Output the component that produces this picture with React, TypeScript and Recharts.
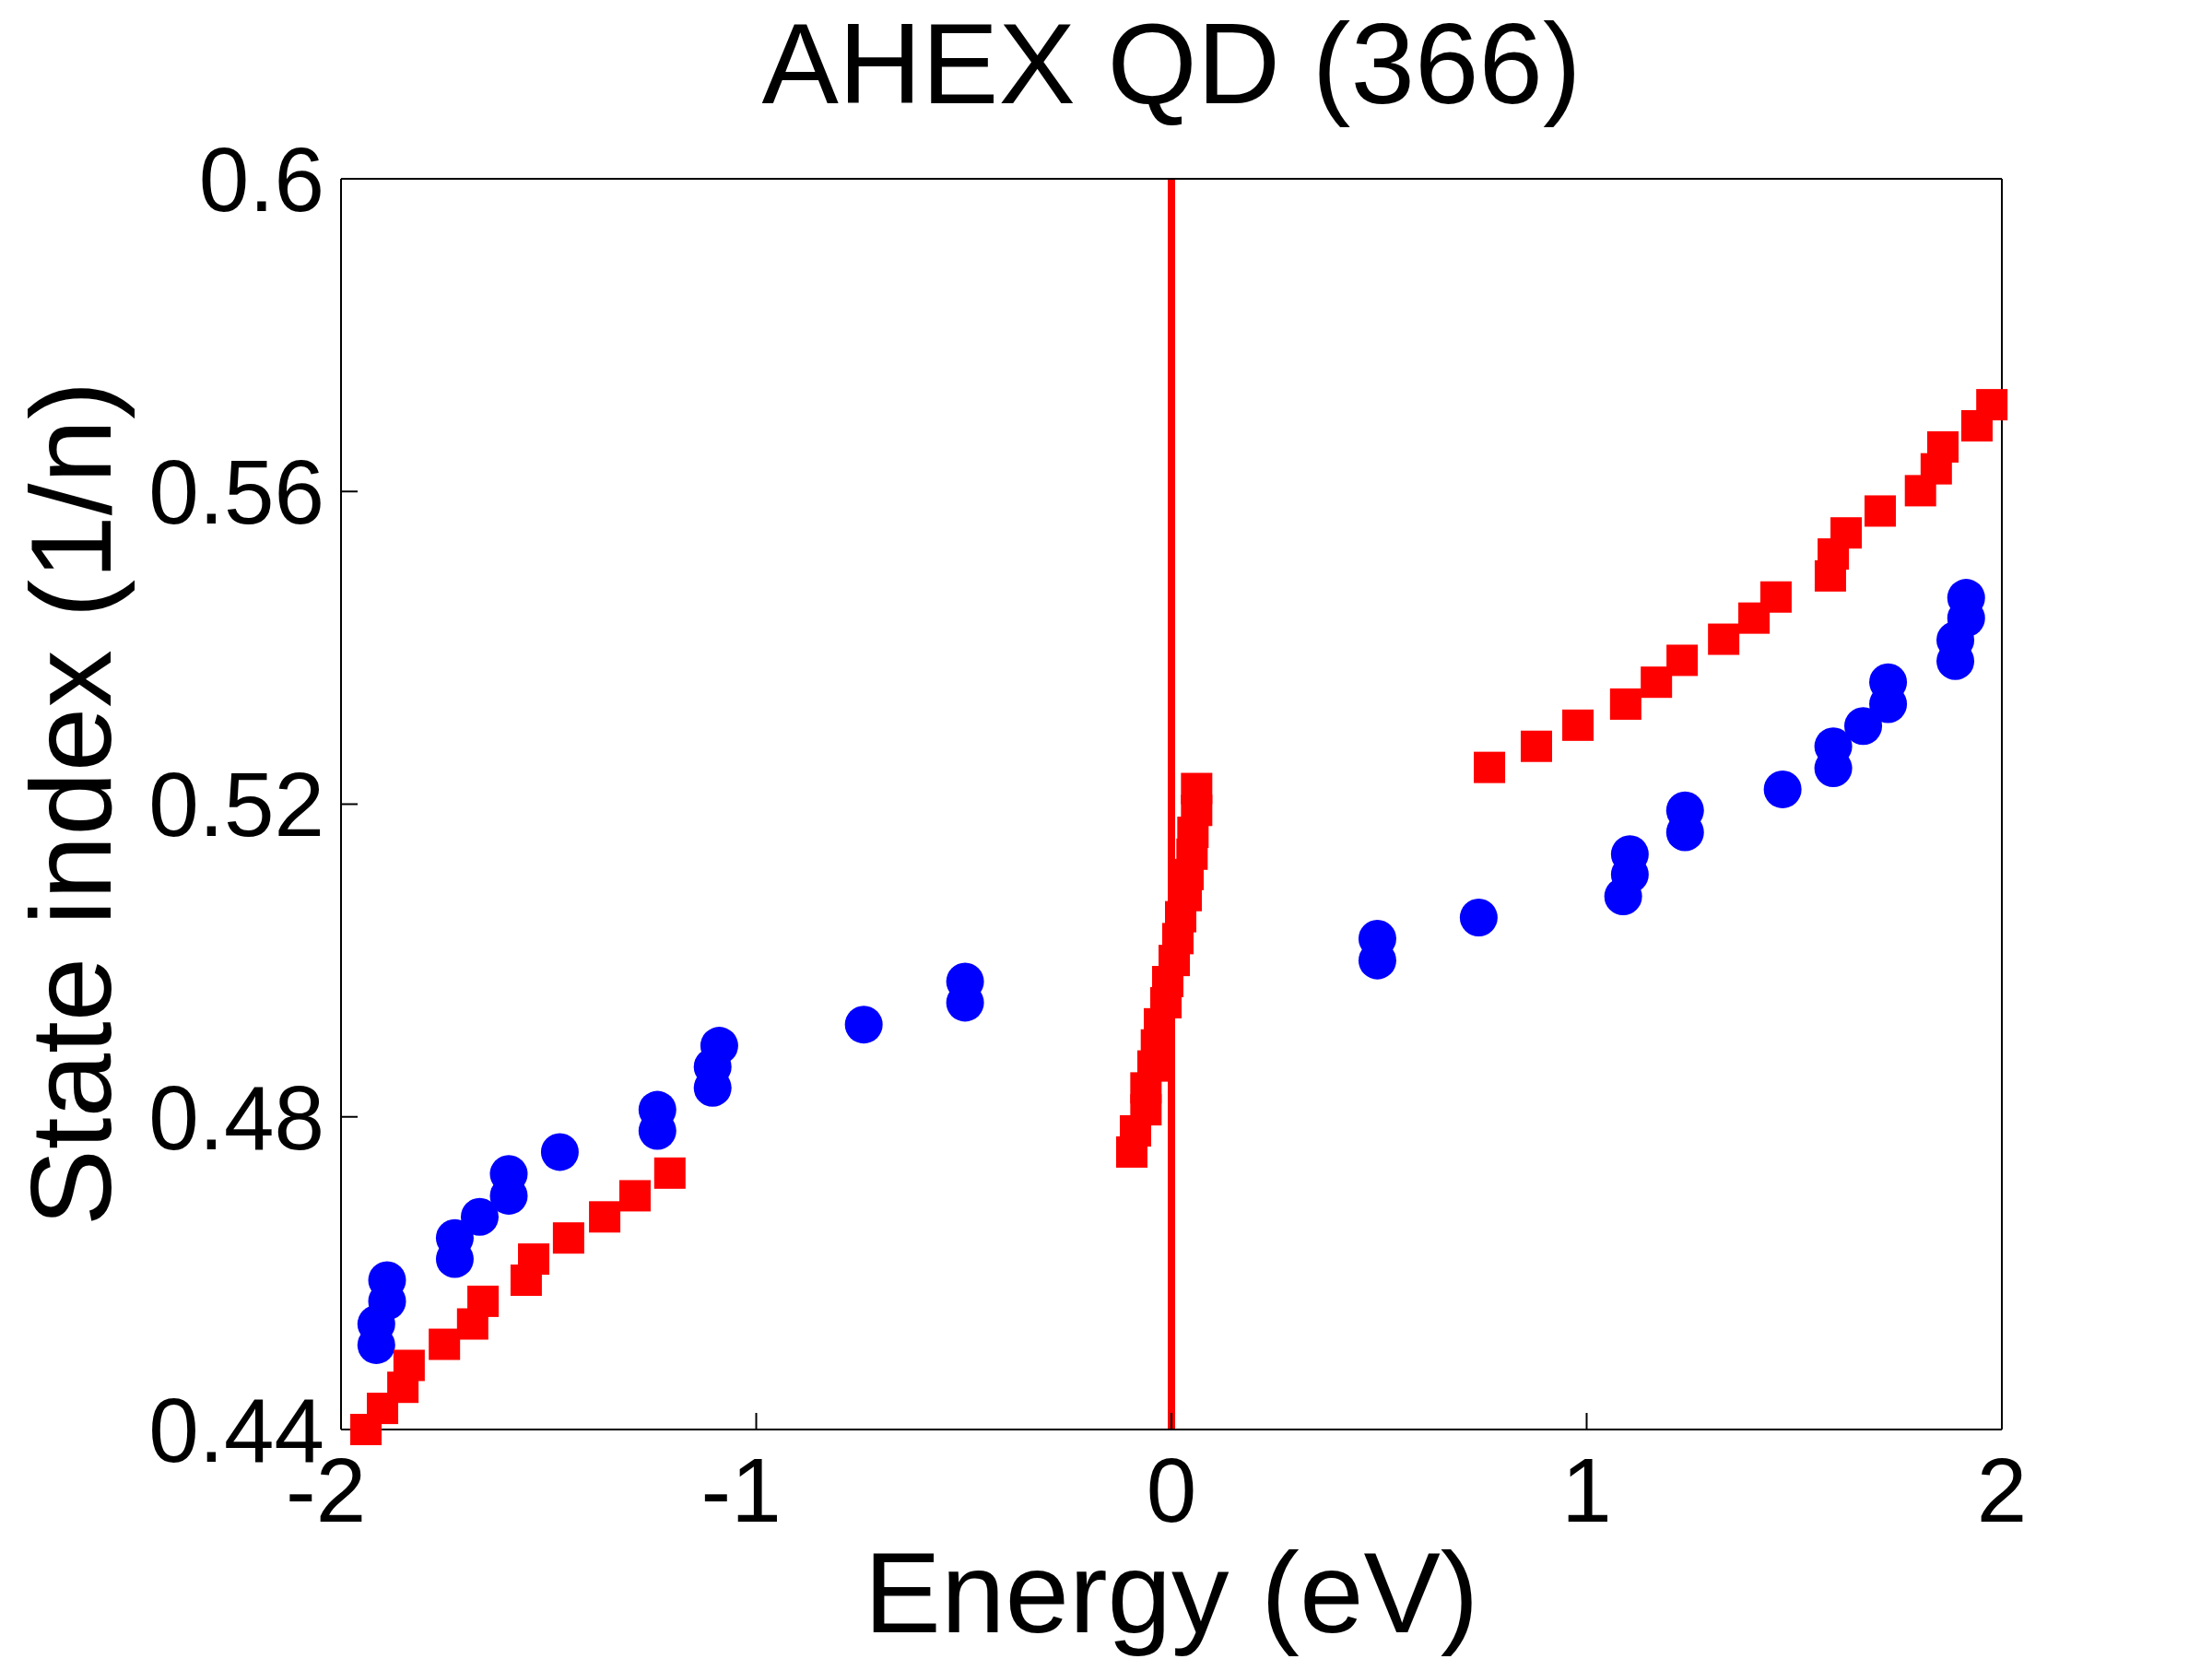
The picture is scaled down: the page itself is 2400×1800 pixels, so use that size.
import React from 'react';
import { ScatterChart, Scatter, XAxis, YAxis, ReferenceLine } from 'recharts';

// Red squares (energy eV, state index 1/n)
const squareX = [
  -1.940, -1.900, -1.851, -1.836, -1.751, -1.683, -1.658, -1.554, -1.536, -1.452, -1.365, -1.292, -1.208,
  -0.0955, -0.0866, -0.0614, -0.0614, -0.0444, -0.0362, -0.0289, -0.0133, -0.0089, 0.0067, 0.0155, 0.0222,
  0.0355, 0.0400, 0.0496, 0.0518, 0.0607, 0.0607,
  0.766, 0.879, 0.979, 1.094, 1.168, 1.230, 1.330, 1.403, 1.456, 1.587, 1.594, 1.625, 1.707, 1.804, 1.842,
  1.858, 1.940, 1.976,
];
const squareY = [
  0.4400, 0.4427, 0.4454, 0.4482, 0.4509, 0.4535, 0.4564, 0.4591, 0.4618, 0.4645, 0.4672, 0.4699, 0.4728,
  0.4755, 0.4782, 0.4809, 0.4837, 0.4865, 0.4892, 0.4919, 0.4946, 0.4973, 0.5000, 0.5028, 0.5056,
  0.5083, 0.5110, 0.5136, 0.5164, 0.5192, 0.5220,
  0.5247, 0.5274, 0.5301, 0.5328, 0.5356, 0.5384, 0.5411, 0.5438, 0.5465, 0.5492, 0.5520, 0.5547, 0.5575, 0.5601, 0.5629,
  0.5657, 0.5684, 0.5711,
];

// Blue circles
const circleX = [
  -1.915, -1.915, -1.889, -1.889, -1.726, -1.726, -1.666, -1.596, -1.596, -1.473, -1.238, -1.238, -1.105, -1.105,
  -1.089, -0.741, -0.497, -0.497, 0.496, 0.496, 0.740, 1.088, 1.104, 1.104, 1.237, 1.237, 1.472, 1.594, 1.594,
  1.666, 1.726, 1.726, 1.888, 1.888, 1.914, 1.914,
];
const circleY = [
  0.4508, 0.4535, 0.4564, 0.4591, 0.4618, 0.4645, 0.4672, 0.4699, 0.4727, 0.4755, 0.4782, 0.4809, 0.4837, 0.4864,
  0.4891, 0.4918, 0.4946, 0.4973, 0.5000, 0.5028, 0.5055, 0.5082, 0.5110, 0.5136, 0.5164, 0.5192, 0.5219, 0.5246, 0.5274,
  0.5300, 0.5328, 0.5356, 0.5383, 0.5410, 0.5438, 0.5464,
];

const xTicks = [-2, -1, 0, 1, 2];
const yTicks = [0.44, 0.48, 0.52, 0.56, 0.6];

const titleText = 'AHEX QD (366)';
const xLabel = 'Energy (eV)';
const yLabel = 'State index (1/n)';

const squareData = squareX.map((x, i) => ({ x, y: squareY[i] }));
const circleData = circleX.map((x, i) => ({ x, y: circleY[i] }));

const FONT = '"Liberation Sans", Arial, Helvetica, sans-serif';
const TICK_FONT = 98;
const tickStyle = { fill: '#000', fontSize: TICK_FONT, fontFamily: FONT };
const lineStyle = { stroke: '#000', strokeWidth: 2 };

// X tick: the last digit is centred on the tick, the minus sign hangs to the left
const XTick = (props: any) => {
  const { x, y, payload } = props;
  return (
    <text
      x={x + TICK_FONT * 0.278}
      y={y}
      dy="0.71em"
      textAnchor="end"
      fill="#000"
      fontSize={TICK_FONT}
      fontFamily={FONT}
    >
      {String(payload.value)}
    </text>
  );
};

const SquareShape = (props: any) => {
  const { cx, cy } = props;
  if (cx == null || cy == null) return null;
  return <rect x={cx - 17} y={cy - 17} width={34} height={34} fill="#ff0000" />;
};
const CircleShape = (props: any) => {
  const { cx, cy } = props;
  if (cx == null || cy == null) return null;
  return <circle cx={cx} cy={cy} r={20.5} fill="#0000ff" />;
};

export default function App() {
  return (
    <div style={{ position: 'absolute', left: 0, top: 0, width: 2400, height: 1800, background: '#fff' }}>
      <ScatterChart
        width={2400}
        height={1800}
        margin={{ top: 193, right: 227, bottom: 248, left: 369 }}
      >
        <XAxis
          xAxisId={0}
          dataKey="x"
          type="number"
          domain={[-2, 2]}
          ticks={xTicks}
          height={1}
          tickSize={-18}
          tickMargin={48}
          axisLine={lineStyle}
          tickLine={lineStyle}
          tick={XTick}
        />
        <XAxis
          xAxisId="top"
          orientation="top"
          type="number"
          domain={[-2, 2]}
          ticks={xTicks}
          height={1}
          tickSize={-18}
          axisLine={lineStyle}
          tickLine={lineStyle}
          tickFormatter={() => ''}
        />
        <YAxis
          yAxisId={0}
          dataKey="y"
          type="number"
          domain={[0.44, 0.6]}
          ticks={yTicks}
          width={1}
          tickSize={-18}
          tickMargin={36}
          axisLine={lineStyle}
          tickLine={lineStyle}
          tick={tickStyle}
        />
        <YAxis
          yAxisId="right"
          orientation="right"
          type="number"
          domain={[0.44, 0.6]}
          ticks={yTicks}
          width={1}
          tickSize={-18}
          axisLine={lineStyle}
          tickLine={lineStyle}
          tickFormatter={() => ''}
        />
        <ReferenceLine x={0} xAxisId={0} yAxisId={0} stroke="#ff0000" strokeWidth={8} />
        <Scatter data={circleData} xAxisId={0} yAxisId={0} shape={CircleShape} isAnimationActive={false} />
        <Scatter data={squareData} xAxisId={0} yAxisId={0} shape={SquareShape} isAnimationActive={false} />
      </ScatterChart>
      <svg
        width={2400}
        height={1800}
        style={{ position: 'absolute', left: 0, top: 0, pointerEvents: 'none' }}
      >
        <text x={1271} y={112} textAnchor="middle" fontFamily={FONT} fontSize={125} fill="#000">
          {titleText}
        </text>
        <text x={1271} y={1771} textAnchor="middle" fontFamily={FONT} fontSize={125} fill="#000">
          {xLabel}
        </text>
        <text
          x={120}
          y={872}
          textAnchor="middle"
          fontFamily={FONT}
          fontSize={125}
          fill="#000"
          transform="rotate(-90, 120, 872)"
        >
          {yLabel}
        </text>
      </svg>
    </div>
  );
}
